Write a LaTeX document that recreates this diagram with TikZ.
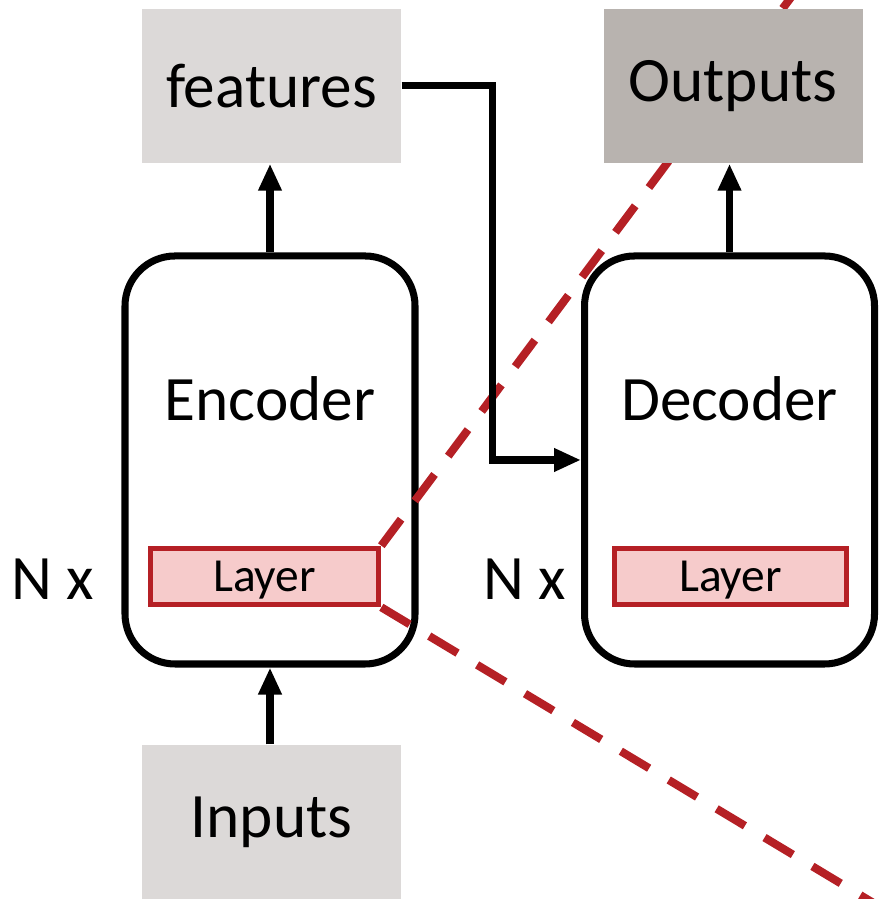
\documentclass[tikz,border=0pt]{standalone}
\usepackage{fontspec}
\setmainfont{Carlito}
\usetikzlibrary{arrows.meta}

\definecolor{boxgray}{HTML}{DCD9D8}
\definecolor{outgray}{HTML}{B8B3AF}
\definecolor{layred}{HTML}{B52025}
\definecolor{layfill}{HTML}{F6CBCB}

\tikzset{
    io/.style={fill=boxgray, minimum width=2.59cm, minimum height=1.54cm, inner sep=0pt,
               font=\fontsize{18}{20}\selectfont},
    coder/.style={draw, line width=2pt, rounded corners=0.5cm, minimum width=2.9cm,
                  minimum height=4.08cm, inner sep=0pt},
    layerbox/.style={draw=layred, fill=layfill, line width=1.6pt, minimum height=0.56cm,
                     inner sep=0pt, text depth=0pt, font=\fontsize{13.5}{15}\selectfont},
    conn/.style={line width=2pt, -{Triangle[length=0.27cm,width=0.22cm]}},
    zoomline/.style={layred, line width=2.3pt, dash pattern=on 9.4pt off 6.5pt},
    big/.style={font=\fontsize{18}{20}\selectfont}
}

\begin{document}
\begin{tikzpicture}
    \useasboundingbox (0,0) rectangle (8.81,8.99);
    \clip (0,0) rectangle (8.81,8.99);

    % encoder / decoder stacks
    \node[coder] (enc) at (2.70,4.39) {};
    \node[coder] (dec) at (7.295,4.39) {};
    \node[big] (enctxt) at (2.70,5.0) {Encoder};
    \node[big] (dectxt) at (7.295,5.0) {Decoder};

    \node[layerbox, minimum width=2.28cm] (layA) at (2.645,3.225) {Layer};
    \node[layerbox, minimum width=2.32cm] (layB) at (7.305,3.225) {Layer};
    \node[big] (nA) at (0.53,3.2) {N x};
    \node[big] (nB) at (5.25,3.2) {N x};

    % zoom-out lines (behind the grey boxes)
    \coordinate (zA) at (7.95,9.07);
    \coordinate (zB) at (9.00,-0.20);
    \draw[zoomline] (layA.north east) -- (zA);
    \draw[zoomline] (layA.south east) -- (zB);

    % inputs / outputs
    \node[io] (feat) at (2.715,8.13) {features};
    \node[io, fill=outgray] (out) at (7.33,8.13) {Outputs};
    \node[io] (inp) at (2.715,0.77) {Inputs};

    \draw[conn] (enc.north) -- (enc.north |- feat.south);
    \draw[conn] (dec.north) -- (dec.north |- out.south);
    \draw[conn] (inp.north -| enc.south) -- (enc.south);
    \draw[conn] (feat.east) -- ++(0.91,0) |- (dec.west);
\end{tikzpicture}
\end{document}
